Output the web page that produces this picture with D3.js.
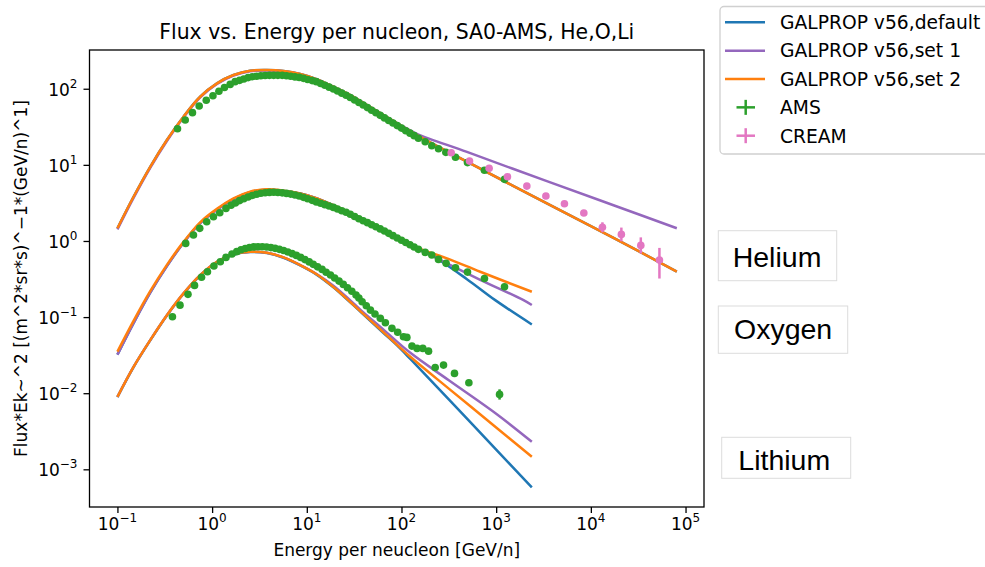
<!DOCTYPE html>
<html>
<head>
<meta charset="utf-8">
<script src="https://cdn.jsdelivr.net/npm/d3@7"></script>
<style>
  body { margin: 0; background: #fff; }
  svg text { font-family: "DejaVu Sans", sans-serif; fill: #000; }
</style>
</head>
<body>
<svg id="chart" width="985" height="567"></svg>
<script>
// GALPROP model curves, [E (GeV/n), Flux*Ek^2]
const heDefault = [[0.1,1.47],[0.148,3.81],[0.222,9.44],[0.333,21.2],[0.499,43.0],[0.748,78.5],[1.125,117.8],[1.683,151.4],[2.52,172.6],[3.79,176.2],[5.68,171.0],[8.53,156.0],[12.8,133.0],[19.1,106.2],[28.8,82.6],[43.2,61.1],[64.6,45.1],[96.8,33.3],[145.5,24.7],[491,11.0],[3430,3.12],[17340,1.10],[80900,0.396]];
const heSet1 = [[0.1,1.42],[0.148,3.68],[0.222,9.15],[0.333,20.6],[0.499,42.0],[0.748,76.8],[1.125,115.5],[1.683,148.8],[2.52,170],[3.79,174],[5.68,169.5],[8.53,155],[12.8,132.5],[19.1,106],[28.8,82.6],[43.2,61.1],[64.6,45.1],[96.8,33.5],[145.5,25.6],[491,14.8],[3430,6.1],[17340,2.95],[80900,1.47]];
const heSet2 = [[0.1,1.47],[0.148,3.81],[0.222,9.44],[0.333,21.2],[0.499,43.0],[0.748,78.5],[1.125,117.8],[1.683,151.4],[2.52,172.6],[3.79,176.2],[5.68,171.0],[8.53,156.0],[12.8,133.0],[19.1,106.2],[28.8,82.6],[43.2,61.1],[64.6,45.1],[96.8,33.3],[145.5,24.7],[491,11.0],[3430,3.12],[17340,1.10],[80900,0.396]];

const oxDefault = [[0.1,0.0321],[0.148,0.0833],[0.222,0.209],[0.333,0.468],[0.499,0.95],[0.748,1.72],[1.125,2.58],[1.683,3.55],[2.52,4.38],[3.79,4.72],[5.68,4.55],[8.53,4.2],[12.8,3.62],[19.1,2.94],[28.8,2.33],[43.2,1.81],[64.6,1.37],[96.8,1.035],[160,0.745],[203,0.66],[491,0.315],[977,0.167],[2380,0.080]];
const oxSet1 = [[0.1,0.0321],[0.148,0.0833],[0.222,0.209],[0.333,0.468],[0.499,0.95],[0.748,1.72],[1.125,2.58],[1.683,3.55],[2.52,4.38],[3.79,4.72],[5.68,4.55],[8.53,4.2],[12.8,3.62],[19.1,2.94],[28.8,2.33],[43.2,1.81],[64.6,1.37],[96.8,1.04],[160,0.759],[302,0.508],[678,0.309],[1945,0.167],[2380,0.144]];
const oxSet2 = [[0.1,0.0352],[0.148,0.0893],[0.222,0.219],[0.333,0.485],[0.499,0.973],[0.748,1.76],[1.125,2.64],[1.683,3.63],[2.52,4.45],[3.79,4.78],[5.68,4.58],[8.53,4.22],[12.8,3.63],[19.1,2.95],[28.8,2.34],[43.2,1.82],[64.6,1.38],[96.8,1.047],[160,0.782],[302,0.59],[678,0.394],[2380,0.215]];

const liDefault = [[0.1,0.0089],[0.148,0.022],[0.222,0.0494],[0.333,0.105],[0.499,0.203],[0.748,0.352],[1.125,0.528],[1.683,0.66],[2.52,0.714],[3.79,0.693],[5.68,0.602],[8.53,0.477],[12.8,0.359],[19.1,0.246],[28.8,0.156],[37.2,0.1165],[64.6,0.0617],[89.3,0.0427],[124,0.0282],[316,0.00832],[1000,0.00182],[2380,0.000578]];
const liSet1 = [[0.1,0.00897],[0.148,0.0222],[0.222,0.0499],[0.333,0.106],[0.499,0.205],[0.748,0.356],[1.125,0.533],[1.683,0.667],[2.52,0.721],[3.79,0.700],[5.68,0.608],[8.53,0.482],[12.8,0.366],[19.1,0.259],[28.8,0.166],[37.2,0.1234],[64.6,0.0684],[124,0.0339],[316,0.0148],[1000,0.00537],[2380,0.0023]];
const liSet2 = [[0.1,0.00897],[0.148,0.0222],[0.222,0.0499],[0.333,0.106],[0.499,0.205],[0.748,0.356],[1.125,0.533],[1.683,0.667],[2.52,0.721],[3.79,0.700],[5.68,0.608],[8.53,0.482],[12.8,0.363],[19.1,0.248],[28.8,0.158],[37.2,0.1178],[64.6,0.0631],[124,0.0301],[316,0.01148],[1000,0.00355],[2380,0.00146]];

// measurements, [E, value, errDown, errUp]
const amsHe = [[0.431,29.8],[0.52,38.8],[0.62,48.5],[0.73,59.3],[0.867,70.5],[1.02,81],[1.18,92.5],[1.35,104],[1.55,114],[1.75,124],[1.95,129],[2.16,134],[2.40,140],[2.66,144],[2.95,146],[3.27,148],[3.63,149],[4.03,150],[4.47,150],[4.95,150],[5.50,150],[6.10,148],[6.76,146],[7.50,143],[8.32,141],[9.23,137],[10.2,132],[11.4,128],[12.6,124],[14.0,117],[15.5,111],[17.2,105],[19.1,99.3],[21.1,93.3],[23.4,87.5],[26.0,82],[28.8,76.9],[32.0,71.3],[35.5,65.9],[39.4,61.1],[43.7,56.5],[48.4,52.2],[53.7,48.3],[59.6,44.7],[66.1,41.4],[73.3,38.3],[81.3,35.4],[90.2,32.8],[100,30.4],[111,28.1],[123,26.1],[136,24.2],[151,22.4],[178,20.1],[209,17.8],[246,16.3],[294,14.6],[372,12.6],[498,10.7],[752,8.5],[1225,6.45]];
const amsOx = [[0.526,0.929],[0.635,1.197],[0.74,1.466],[0.877,1.786],[1.033,2.08],[1.205,2.35],[1.40,2.68],[1.585,2.95],[1.76,3.16],[1.95,3.39],[2.16,3.59],[2.40,3.78],[2.66,3.96],[2.95,4.11],[3.27,4.23],[3.63,4.31],[4.03,4.35],[4.47,4.36],[4.95,4.34],[5.50,4.29],[6.10,4.22],[6.76,4.13],[7.50,4.02],[8.32,3.89],[9.23,3.74],[10.2,3.58],[11.4,3.42],[12.6,3.26],[14.0,3.13],[15.5,3.0],[17.2,2.88],[19.1,2.76],[21.1,2.63],[23.4,2.50],[26.0,2.38],[28.8,2.24],[32.0,2.10],[35.5,1.96],[39.4,1.845],[43.7,1.74],[48.4,1.63],[53.7,1.535],[59.6,1.44],[66.1,1.35],[73.3,1.26],[81.3,1.175],[90.2,1.096],[100,1.023],[111,0.955],[123,0.891],[136,0.832],[151,0.776],[178,0.708],[209,0.653],[246,0.573],[296,0.508],[372,0.445],[498,0.39],[752,0.322],[1225,0.25]];
const amsLi = [[0.381,0.101],[0.458,0.1435],[0.556,0.199],[0.652,0.261],[0.773,0.333],[0.893,0.394],[1.045,0.468],[1.22,0.533],[1.40,0.608],[1.62,0.673],[1.82,0.724],[2.02,0.767],[2.24,0.798],[2.48,0.822],[2.75,0.836],[3.05,0.841],[3.39,0.839],[3.76,0.832],[4.17,0.818],[4.62,0.8],[5.13,0.776],[5.69,0.748],[6.31,0.716],[7.0,0.682],[7.76,0.646],[8.61,0.608],[9.55,0.569],[10.6,0.531],[11.7,0.493],[13.0,0.457],[14.5,0.423],[16.0,0.389],[17.8,0.357],[19.7,0.327],[21.9,0.297],[24.3,0.269],[26.9,0.243],[29.9,0.219],[33.1,0.195],[35.5,0.178],[38.4,0.159],[42.5,0.141],[47.0,0.1236],[52.5,0.1096],[59.8,0.0962],[67.6,0.0841],[79.3,0.0711],[91.2,0.0631],[105,0.0551],[114,0.0541],[129,0.0416],[146,0.0388],[168,0.0388],[193,0.0357],[227,0.0218],[278,0.0234],[363,0.0182],[515,0.0137,0.0008,0.0008],[1086,0.00964,0.0014,0.0016]];
const creamHe = [[335,14.4,0.3,0.3],[523,11.2,0.25,0.25],[843,9.0,0.2,0.2],[1315,6.97,0.17,0.17],[2109,5.26,0.14,0.14],[3350,3.89,0.12,0.12],[5260,3.09,0.11,0.11],[8430,2.33,0.1,0.1],[13250,1.51,0.21,0.25],[21000,1.22,0.23,0.28],[33700,0.875,0.19,0.24],[53000,0.561,0.24,0.25]];

const legendLabels = ['GALPROP v56,default', 'GALPROP v56,set 1', 'GALPROP v56,set 2', 'AMS', 'CREAM'];
const elementLabels = ['Helium', 'Oxygen', 'Lithium'];
const xDecades = [-1, 0, 1, 2, 3, 4, 5];
const yDecades = [-3, -2, -1, 0, 1, 2];

const C = { blue: '#1f77b4', orange: '#ff7f0e', green: '#2ca02c', purple: '#9467bd', pink: '#e377c2' };

const svg = d3.select('#chart');
const m = { left: 89.5, right: 704, top: 50, bottom: 507 };

const x = d3.scaleLog().domain([Math.pow(10, -1.295), Math.pow(10, 5.195)]).range([m.left, m.right]);
const y = d3.scaleLog().domain([Math.pow(10, -3.495), Math.pow(10, 2.509)]).range([m.bottom, m.top]);

function minorTicks(scale) {
  const [a, b] = scale.domain();
  const out = [];
  for (let e = Math.floor(Math.log10(a)); e <= Math.ceil(Math.log10(b)); e++) {
    for (let k = 2; k <= 9; k++) {
      const v = k * Math.pow(10, e);
      if (v >= a && v <= b) out.push(v);
    }
  }
  return out;
}

function expLabel(text, e) {
  text.append('tspan').text('10');
  text.append('tspan').attr('dy', -8).attr('font-size', 12).text(e < 0 ? '\u2212' + (-e) : e);
}

// axes
const gx = svg.append('g').attr('transform', `translate(0,${m.bottom})`);
gx.call(d3.axisBottom(x).tickValues(minorTicks(x)).tickSize(3.4).tickFormat(''));
gx.call(d3.axisBottom(x).tickValues(xDecades.map(d => Math.pow(10, d))).tickSize(6).tickFormat(''));
gx.selectAll('.domain').remove();

const gy = svg.append('g').attr('transform', `translate(${m.left},0)`);
gy.call(d3.axisLeft(y).tickValues(minorTicks(y)).tickSize(3.4).tickFormat(''));
gy.call(d3.axisLeft(y).tickValues(yDecades.map(d => Math.pow(10, d))).tickSize(6).tickFormat(''));
gy.selectAll('.domain').remove();
svg.selectAll('.tick line').attr('stroke', '#000').attr('stroke-width', 1.3);

xDecades.forEach(e => {
  const t = svg.append('text').attr('x', x(Math.pow(10, e))).attr('y', 530)
    .attr('text-anchor', 'middle').attr('font-size', 17);
  expLabel(t, e);
});
yDecades.forEach(e => {
  const t = svg.append('text').attr('x', m.left - 12).attr('y', y(Math.pow(10, e)) + 7)
    .attr('text-anchor', 'end').attr('font-size', 17);
  expLabel(t, e);
});

// curves
const line = d3.line().x(d => x(d[0])).y(d => y(d[1])).curve(d3.curveCatmullRom.alpha(0.5));
const plot = svg.append('g');
[[heDefault, heSet1, heSet2], [oxDefault, oxSet1, oxSet2], [liDefault, liSet1, liSet2]].forEach(set => {
  [C.blue, C.purple, C.orange].forEach((col, i) => {
    plot.append('path').attr('d', line(set[i])).attr('fill', 'none')
      .attr('stroke', col).attr('stroke-width', 2.5);
  });
});

function points(data, col) {
  const g = plot.append('g');
  g.selectAll('line').data(data.filter(d => d.length > 2)).join('line')
    .attr('x1', d => x(d[0])).attr('x2', d => x(d[0]))
    .attr('y1', d => y(d[1] - d[2])).attr('y2', d => y(d[1] + d[3]))
    .attr('stroke', col).attr('stroke-width', 2.5);
  g.selectAll('circle').data(data).join('circle')
    .attr('cx', d => x(d[0])).attr('cy', d => y(d[1])).attr('r', 3.8).attr('fill', col);
}
points(amsHe, C.green);
points(amsOx, C.green);
points(amsLi, C.green);
points(creamHe, C.pink);

// frame
svg.append('rect').attr('x', m.left).attr('y', m.top)
  .attr('width', m.right - m.left).attr('height', m.bottom - m.top)
  .attr('fill', 'none').attr('stroke', '#000').attr('stroke-width', 1.3);

// titles
svg.append('text').attr('x', (m.left + m.right) / 2).attr('y', 39).attr('text-anchor', 'middle')
  .attr('font-size', 20.4).text('Flux vs. Energy per nucleon, SA0-AMS, He,O,Li');
svg.append('text').attr('x', (m.left + m.right) / 2).attr('y', 556).attr('text-anchor', 'middle')
  .attr('font-size', 17).text('Energy per neucleon [GeV/n]');
svg.append('text').attr('transform', `translate(27,${(m.top + m.bottom) / 2}) rotate(-90)`)
  .attr('text-anchor', 'middle').attr('font-size', 17)
  .text('Flux*Ek~^2 [(m^2*sr*s)^\u22121*(GeV/n)^1]');

// legend
const lg = svg.append('g');
lg.append('rect').attr('x', 720).attr('y', 6.5).attr('width', 300).attr('height', 147.5).attr('rx', 4)
  .attr('fill', '#fff').attr('fill-opacity', 0.8).attr('stroke', '#d0d0d0').attr('stroke-width', 1.3);
const legendColors = [C.blue, C.purple, C.orange, C.green, C.pink];
legendLabels.forEach((lab, i) => {
  const ly = 22.3 + i * 28.35;
  if (i < 3) {
    lg.append('line').attr('x1', 725).attr('x2', 765).attr('y1', ly).attr('y2', ly)
      .attr('stroke', legendColors[i]).attr('stroke-width', 2.5);
  } else {
    lg.append('line').attr('x1', 736.5).attr('x2', 755).attr('y1', ly).attr('y2', ly)
      .attr('stroke', legendColors[i]).attr('stroke-width', 2.5);
    lg.append('line').attr('x1', 745.7).attr('x2', 745.7).attr('y1', ly - 7.5).attr('y2', ly + 7.5)
      .attr('stroke', legendColors[i]).attr('stroke-width', 2.5);
  }
  lg.append('text').attr('x', 780).attr('y', ly + 6.8).attr('font-size', 18.7).text(lab);
});

// element label boxes
const boxes = [
  { x: 718.3, y: 230.7, w: 118.4, h: 50, base: 267.3, tx: 732.7 },
  { x: 718.3, y: 306, w: 129.4, h: 47.3, base: 339.3, tx: 734 },
  { x: 721.7, y: 437.3, w: 129, h: 41, base: 470, tx: 738.3 }
];
elementLabels.forEach((lab, i) => {
  const b = boxes[i];
  svg.append('rect').attr('x', b.x).attr('y', b.y).attr('width', b.w).attr('height', b.h)
    .attr('fill', '#fff').attr('stroke', '#dcdcdc').attr('stroke-width', 1);
  svg.append('text').attr('x', b.tx).attr('y', b.base).attr('font-size', 28.5)
    .style('font-family', '"Liberation Sans", Arial, sans-serif').text(lab);
});
</script>
</body>
</html>
